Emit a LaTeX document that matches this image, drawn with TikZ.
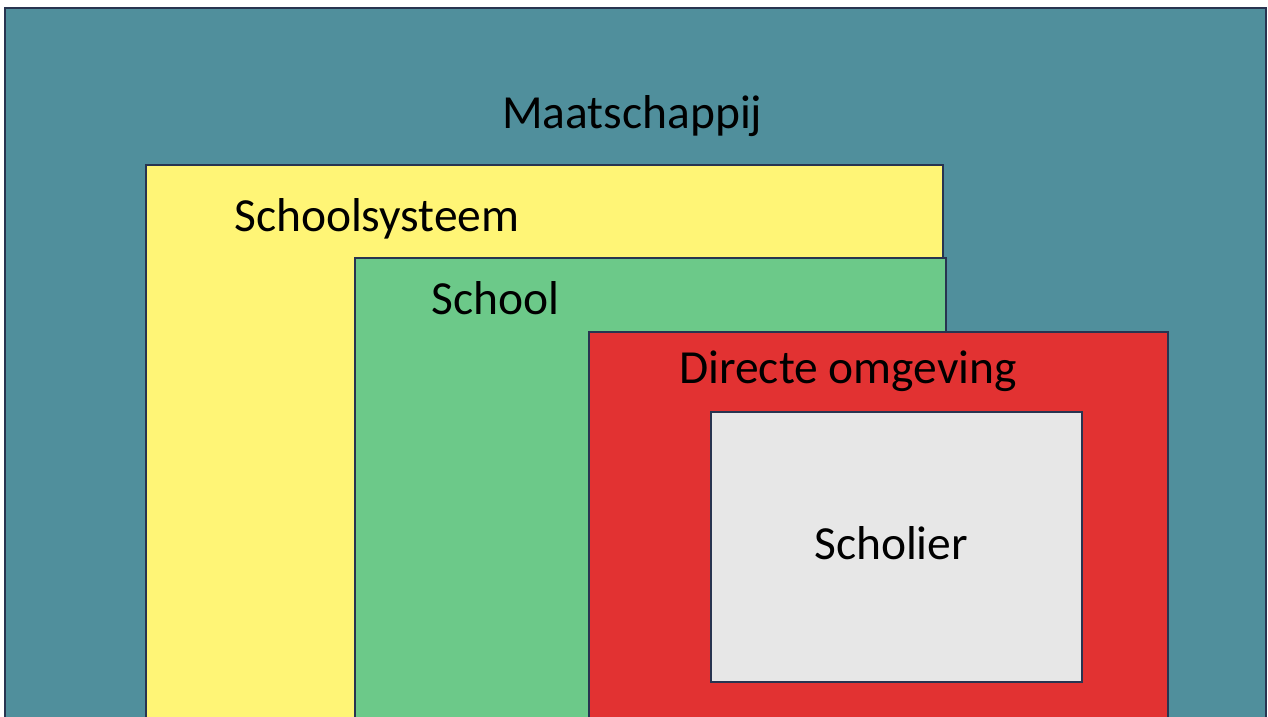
\documentclass[tikz,border=0pt]{standalone}
\usepackage{fontspec}
\setmainfont{Carlito}
\definecolor{tealbg}{RGB}{80,143,156}
\definecolor{yel}{RGB}{255,245,118}
\definecolor{grn}{RGB}{108,201,137}
\definecolor{rd}{RGB}{226,50,50}
\definecolor{gry}{RGB}{231,231,231}
\definecolor{edge}{RGB}{40,52,80}
\begin{document}
\begin{tikzpicture}[x=1pt,y=-1pt,
  box/.style={draw=edge,line width=1.2pt},
  lbl/.style={anchor=base west,inner sep=0pt,font=\fontsize{47.5}{52}\selectfont,text=black}]
\useasboundingbox (0,0) rectangle (1268,716);
\fill[white] (0,0) rectangle (1268,716);
\path[box,fill=tealbg] (5,8) rectangle (1266,730);
\path[box,fill=yel] (146,165) rectangle (943,730);
\path[box,fill=grn] (355,258) rectangle (946,730);
\path[box,fill=rd] (589,332) rectangle (1168,730);
\path[box,fill=gry] (711,412) rectangle (1082,682);
\node[lbl] (maat) at (502,128) {Maatschappij};
\node[lbl] (ssys) at (234,231) {Schoolsysteem};
\node[lbl] (school) at (431,314) {School};
\node[lbl] (direct) at (679,383) {Directe omgeving};
\node[lbl] (schol) at (814,559) {Scholier};
\end{tikzpicture}
\end{document}
